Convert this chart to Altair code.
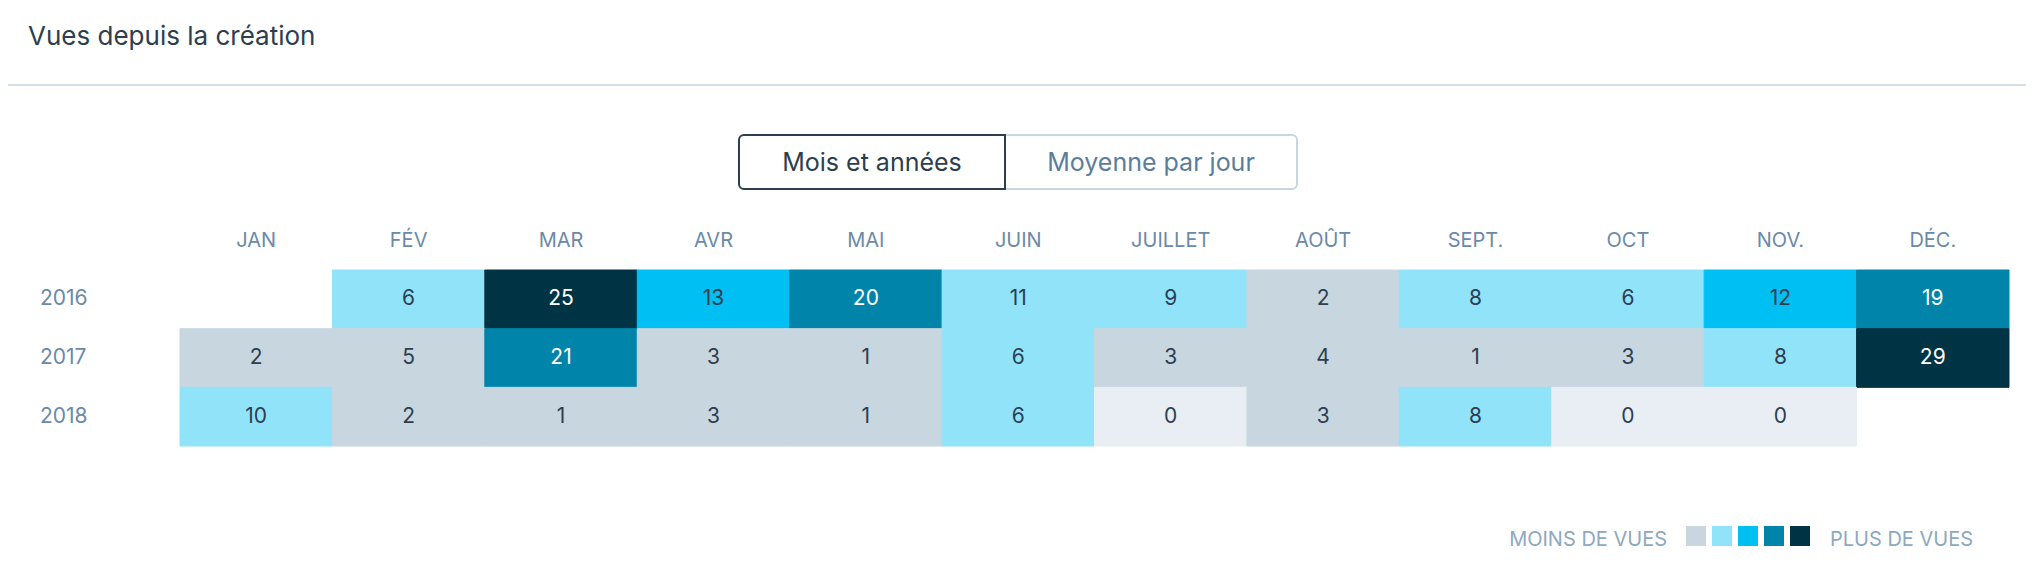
import altair as alt
import pandas as pd

# ---- data ----
months = ["JAN", "FÉV", "MAR", "AVR", "MAI", "JUIN", "JUILLET", "AOÛT", "SEPT.", "OCT", "NOV.", "DÉC."]
years = ["2016", "2017", "2018"]
views_2016 = [None, 6, 25, 13, 20, 11, 9, 2, 8, 6, 12, 19]
views_2017 = [2, 5, 21, 3, 1, 6, 3, 4, 1, 3, 8, 29]
views_2018 = [10, 2, 1, 3, 1, 6, 0, 3, 8, 0, 0, None]
thresholds = [1, 6, 12, 18, 24]
palette = ["#e8eef3", "#c8d6e0", "#91e3fa", "#00bff3", "#0084a9", "#003344"]
legend_colors = palette[1:]

rows = []
for yr, vals in zip(years, [views_2016, views_2017, views_2018]):
    for m, v in zip(months, vals):
        if v is not None:
            rows.append({"month": m, "year": yr, "views": v})
df = pd.DataFrame(rows)

FONT = "Inter"
DARK = "#2c3e50"
AXIS_C = "#6b8aa8"
LIGHT_C = "#8ea8be"

xscale = alt.Scale(domain=months, range=[172, 2001], paddingInner=0, paddingOuter=0)
yscale = alt.Scale(domain=years, range=[262, 438], paddingInner=0, paddingOuter=0)
cscale = alt.Scale(type="threshold", domain=thresholds, range=palette)

one = pd.DataFrame({"k": [0]})

# ---- heatmap ----
cells = alt.Chart(df).mark_rect(strokeWidth=1).encode(
    x=alt.X("month:N", scale=xscale, axis=None),
    y=alt.Y("year:N", scale=yscale, axis=None),
    fill=alt.Fill("views:Q", scale=cscale, legend=None),
    stroke=alt.Stroke("views:Q", scale=cscale, legend=None),
)
cell_text = alt.Chart(df).mark_text(font=FONT, fontSize=21, baseline="middle", align="center").encode(
    x=alt.X("month:N", scale=xscale, axis=None),
    y=alt.Y("year:N", scale=yscale, axis=None),
    text="views:Q",
    color=alt.condition(alt.datum.views >= 18, alt.value("white"), alt.value(DARK)),
)
month_labels = alt.Chart(pd.DataFrame({"month": months})).mark_text(
    font=FONT, fontSize=20, align="center", baseline="alphabetic", color=AXIS_C
).encode(
    x=alt.X("month:N", scale=xscale, axis=None),
    y=alt.value(239),
    text="month:N",
)
year_labels = alt.Chart(pd.DataFrame({"year": years})).mark_text(
    font=FONT, fontSize=21, align="left", baseline="middle", color=AXIS_C
).encode(
    x=alt.value(32),
    y=alt.Y("year:N", scale=yscale, axis=None),
    text="year:N",
)

# ---- header ----
title = alt.Chart(one).mark_text(
    text="Vues depuis la création", font=FONT, fontSize=26, align="left", baseline="alphabetic", color=DARK
).encode(x=alt.value(20), y=alt.value(37))
sep = alt.Chart(one).mark_rule(color="#d3dee8", strokeWidth=2).encode(
    x=alt.value(-8), x2=alt.value(2030), y=alt.value(77)
)

# ---- toggle buttons ----
btn_right = alt.Chart(one).mark_rect(
    fill="white", stroke="#c8d6e0", strokeWidth=2, cornerRadiusTopRight=5, cornerRadiusBottomRight=5
).encode(x=alt.value(997), x2=alt.value(1289), y=alt.value(127), y2=alt.value(181))
btn_left = alt.Chart(one).mark_rect(
    fill="white", stroke=DARK, strokeWidth=2, cornerRadiusTopLeft=5, cornerRadiusBottomLeft=5
).encode(x=alt.value(731), x2=alt.value(997), y=alt.value(127), y2=alt.value(181))
btn_left_text = alt.Chart(one).mark_text(
    text="Mois et années", font=FONT, fontSize=25, align="center", baseline="middle", color=DARK
).encode(x=alt.value(864), y=alt.value(155))
btn_right_text = alt.Chart(one).mark_text(
    text="Moyenne par jour", font=FONT, fontSize=25, align="center", baseline="middle", color="#5a7d9a"
).encode(x=alt.value(1143), y=alt.value(155))

# ---- custom legend ----
leg_df = pd.DataFrame({"i": list(range(len(legend_colors))), "c": legend_colors})
leg_sq = alt.Chart(leg_df).transform_calculate(
    x0="1678 + 26 * datum.i", x1="1678 + 26 * datum.i + 20"
).mark_rect().encode(
    x=alt.X("x0:Q", scale=None, axis=None),
    x2="x1:Q",
    y=alt.value(518),
    y2=alt.value(538),
    fill=alt.Fill("c:N", scale=None, legend=None),
)
leg_lo = alt.Chart(one).mark_text(
    text="MOINS DE VUES", font=FONT, fontSize=20, align="right", baseline="alphabetic", color=LIGHT_C
).encode(x=alt.value(1659), y=alt.value(538))
leg_hi = alt.Chart(one).mark_text(
    text="PLUS DE VUES", font=FONT, fontSize=20, align="left", baseline="alphabetic", color=LIGHT_C
).encode(x=alt.value(1822), y=alt.value(538))

chart = alt.layer(
    sep, title, btn_right, btn_left, btn_left_text, btn_right_text,
    cells, cell_text, month_labels, year_labels,
    leg_sq, leg_lo, leg_hi,
).resolve_scale(
    x="independent", y="independent", color="independent", fill="independent", stroke="independent"
).properties(
    width=2018, height=572, autosize=alt.AutoSizeParams(type="none"), padding=0
).configure_view(strokeWidth=0)

chart.save("out.html", embed_options={"renderer": "svg", "actions": False})
